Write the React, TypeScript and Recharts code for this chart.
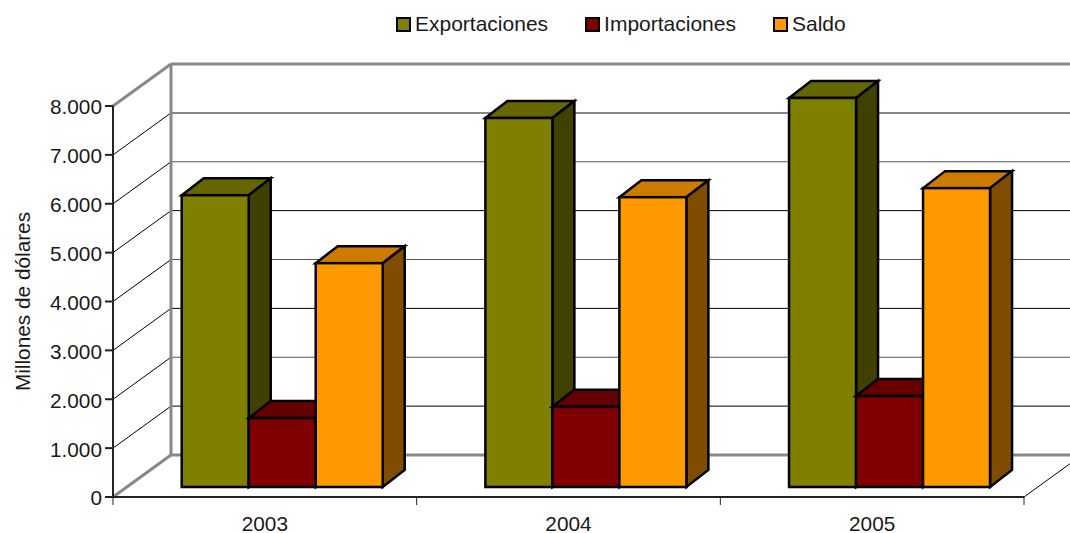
import React from 'react';
import { BarChart, Bar, XAxis, YAxis, CartesianGrid, Legend } from 'recharts';

const years = ['2003', '2004', '2005'];
const exportaciones = [5970, 7550, 7960];
const importaciones = [1410, 1640, 1860];
const saldo = [4580, 5930, 6115];
const yTicks = [0, 1000, 2000, 3000, 4000, 5000, 6000, 7000, 8000];

const data = years.map((year, i) => ({
  year,
  exportaciones: exportaciones[i],
  importaciones: importaciones[i],
  saldo: saldo[i],
}));

const FONT = 'Liberation Sans, Arial, sans-serif';
const TEXT = '#1a1a1a';
// floor / wall depth of the fake 3D box
const WALL_X = 58;
const WALL_Y = 42;
// bars stand a bit inside the floor and have their own depth
const BAR_DX = 18;
const BAR_DY = -10;
const BAR_DEPTH_X = 22;
const BAR_DEPTH_Y = 17;

const shades: Record<string, { top: string; side: string }> = {
  '#808000': { top: '#666600', side: '#404000' },
  '#800000': { top: '#660000', side: '#400000' },
  '#ff9900': { top: '#cc7a00', side: '#804d00' },
};

const Bar3D = (props: any) => {
  const { fill, width: w, height: h } = props;
  const x = props.x + BAR_DX;
  const y = props.y + BAR_DY;
  const { top, side } = shades[fill];
  const dx = BAR_DEPTH_X;
  const dy = BAR_DEPTH_Y;
  return (
    <g stroke="#000" strokeWidth={2.5} strokeLinejoin="miter">
      <path d={`M${x},${y} l${dx},${-dy} h${w} l${-dx},${dy} Z`} fill={top} />
      <path d={`M${x + w},${y} l${dx},${-dy} v${h} l${-dx},${dy} Z`} fill={side} />
      <rect x={x} y={y} width={w} height={h} fill={fill} />
    </g>
  );
};

const GridLine = (props: any) => {
  const { x1, x2, y1, index } = props;
  const value = yTicks[yTicks.length - 1 - index];
  const edge = y1 === 106 || y1 === 497;
  let stroke = value / 1000 % 2 === 1 ? '#000' : '#555';
  let sw = 1;
  if (edge) {
    stroke = '#888';
    sw = 3;
  } else if (value === 1000) {
    stroke = '#888';
    sw = 2;
  }
  const by = y1 - WALL_Y;
  return (
    <g fill="none">
      <line x1={x1} y1={y1} x2={x1 + WALL_X} y2={by} stroke={edge ? '#888' : '#000'} strokeWidth={edge ? 3 : 1} />
      <line x1={x1 + WALL_X} y1={by} x2={x2 + WALL_X} y2={by} stroke={stroke} strokeWidth={sw} />
      {y1 === 106 && <line x1={x1 + WALL_X} y1={by} x2={x1 + WALL_X} y2={497 - WALL_Y} stroke="#888" strokeWidth={3} />}
      {y1 === 497 && <line x1={x2} y1={y1} x2={x2 + WALL_X} y2={by} stroke="#000" strokeWidth={1} />}
    </g>
  );
};

const YearTick = (props: any) => {
  const { x, y, payload, index } = props;
  const half = 911 / years.length / 2;
  return (
    <g>
      <line x1={x - half} y1={y - 8} x2={x - half} y2={y} stroke="#222" strokeWidth={1} />
      {index === years.length - 1 && <line x1={x + half} y1={y - 8} x2={x + half} y2={y} stroke="#222" strokeWidth={1} />}
      <text x={x} y={y + 26} textAnchor="middle" fontSize={20.8} fontFamily={FONT} fill={TEXT}>{payload.value}</text>
    </g>
  );
};

const renderLegend = (props: any) => (
  <div style={{ display: 'flex', alignItems: 'center', fontFamily: FONT, fontSize: 21, color: TEXT, lineHeight: '24px' }}>
    {props.payload.map((entry: any, i: number) => (
      <span key={entry.value} style={{ display: 'flex', alignItems: 'center', marginLeft: i === 0 ? 0 : 37 }}>
        <span style={{ width: 11, height: 11, background: entry.color, border: '2px solid #000', marginRight: 4 }} />
        {entry.value}
      </span>
    ))}
  </div>
);

export default function App() {
  return (
    <div style={{ width: 1070, height: 533 }}>
      <style>{'body { margin: 0; }'}</style>
      <BarChart
        width={1070}
        height={533}
        data={data}
        margin={{ top: 106, right: 46, bottom: 0, left: 8 }}
        barCategoryGap="16.7%"
        barGap={0}
      >
        <CartesianGrid vertical={false} horizontal={GridLine} />
        <XAxis
          dataKey="year"
          height={36}
          stroke="#222"
          strokeWidth={2}
          tickLine={false}
          tick={YearTick}
          interval={0}
        />
        <YAxis
          width={105}
          domain={[0, 8000]}
          ticks={yTicks}
          tickSize={8}
          tickMargin={3}
          stroke="#222"
          strokeWidth={2}
          tick={{ fontSize: 20.8, fontFamily: FONT, fill: TEXT, dy: 1 }}
          tickFormatter={(v: number) => (v === 0 ? '0' : `${v / 1000}.000`)}
          label={{
            value: 'Millones de dólares',
            angle: -90,
            position: 'insideLeft',
            offset: 15,
            style: { fontSize: 20.8, fontFamily: FONT, fill: TEXT, textAnchor: 'middle' },
          }}
        />
        <Legend
          verticalAlign="middle"
          align="center"
          content={renderLegend}
          wrapperStyle={{ top: 12, left: 396, width: 'auto' }}
        />
        <Bar dataKey="exportaciones" name="Exportaciones" fill="#808000" shape={Bar3D} isAnimationActive={false} />
        <Bar dataKey="importaciones" name="Importaciones" fill="#800000" shape={Bar3D} isAnimationActive={false} />
        <Bar dataKey="saldo" name="Saldo" fill="#ff9900" shape={Bar3D} isAnimationActive={false} />
      </BarChart>
    </div>
  );
}
